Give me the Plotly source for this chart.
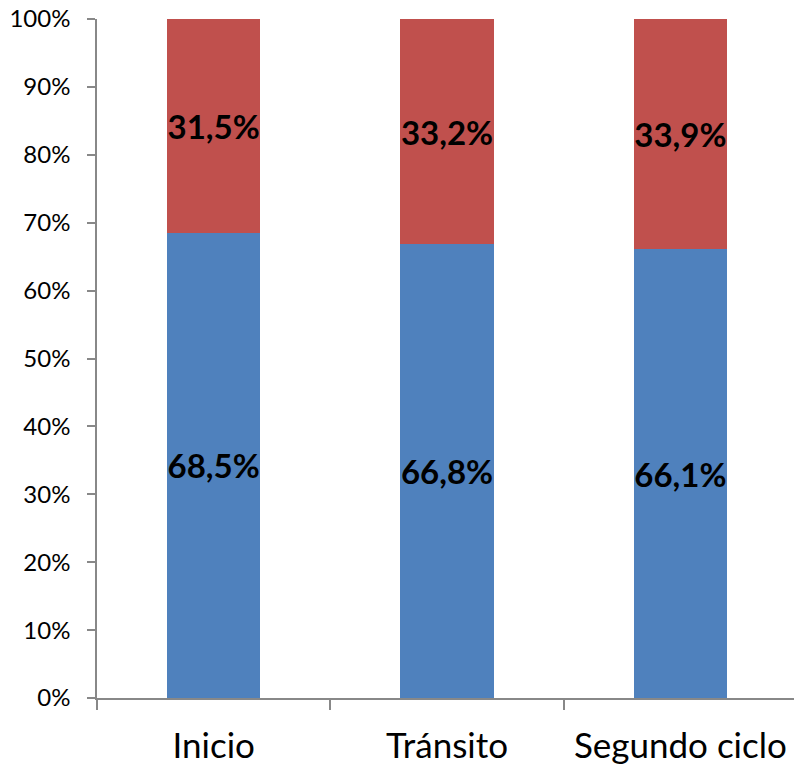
import plotly.graph_objects as go

categories = ["Inicio", "Tránsito", "Segundo ciclo"]
blue_values = [0.685, 0.668, 0.661]
red_values = [0.315, 0.332, 0.339]
blue_labels = ["68,5%", "66,8%", "66,1%"]
red_labels = ["31,5%", "33,2%", "33,9%"]
y_tickvals = [0, 0.1, 0.2, 0.3, 0.4, 0.5, 0.6, 0.7, 0.8, 0.9, 1.0]
y_ticktext = ["0%", "10%", "20%", "30%", "40%", "50%", "60%", "70%", "80%", "90%", "100%"]

FONT = "Lato, Carlito, Calibri, sans-serif"

fig = go.Figure()
fig.add_trace(go.Bar(
    x=categories, y=blue_values, text=blue_labels,
    marker=dict(color="#4F81BD", line=dict(width=0)),
    textposition="inside", insidetextanchor="middle", textangle=0,
    constraintext="none",
    textfont=dict(family=FONT, size=33, color="black", weight="bold"),
    width=0.4, showlegend=False,
))
fig.add_trace(go.Bar(
    x=categories, y=red_values, text=red_labels,
    marker=dict(color="#C0504D", line=dict(width=0)),
    textposition="inside", insidetextanchor="middle", textangle=0,
    constraintext="none",
    textfont=dict(family=FONT, size=33, color="black", weight="bold"),
    width=0.4, showlegend=False,
))

fig.update_layout(
    barmode="stack",
    width=794, height=765,
    margin=dict(l=97, r=0, t=19, b=67, autoexpand=False),
    plot_bgcolor="white", paper_bgcolor="white",
    font=dict(family=FONT, color="black"),
    uniformtext=dict(mode=False),
)
fig.update_xaxes(
    range=[-0.5, 2.487],
    automargin=False,
    showline=True, linecolor="#888888", linewidth=1.5,
    ticks="outside", tickson="boundaries", ticklen=10, tickcolor="#888888", tickwidth=1.5,
    tickfont=dict(family=FONT, size=35, color="black"),
    ticklabelstandoff=16,
    ticklabeloverflow="allow",
    showgrid=False, zeroline=False,
)
fig.update_yaxes(
    range=[0, 1],
    automargin=False,
    tickvals=y_tickvals, ticktext=y_ticktext,
    showline=True, linecolor="#888888", linewidth=1.5,
    ticks="outside", ticklen=8, tickcolor="#888888", tickwidth=1.5,
    tickfont=dict(family=FONT, size=24, color="black"),
    ticklabelstandoff=12,
    ticklabeloverflow="allow",
    showgrid=False, zeroline=False,
)

fig.write_html("out.html", config={"displayModeBar": False},
               post_script="document.body.style.margin='0';")
